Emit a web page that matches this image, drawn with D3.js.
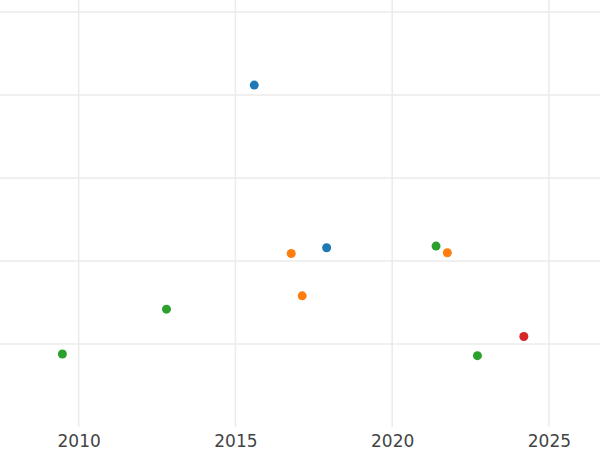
<!DOCTYPE html>
<html>
<head>
<meta charset="utf-8">
<script src="https://cdn.jsdelivr.net/npm/d3@7"></script>
<style>
  body { margin: 0; background: #fff; }
  svg { display: block; }
</style>
</head>
<body>
<div id="chart"></div>
<script>
const W = 600;
const H = 450;
const plotBottom = 427;

// data
const series = ["A", "B", "C", "D"];
const colors = ["#1f77b4", "#ff7f0e", "#2ca02c", "#d62728"];
const years = [2015.6, 2017.91, 2016.78, 2017.13, 2021.76, 2009.48, 2012.8, 2021.4, 2022.72, 2024.2];
const values = [41.2, 21.6, 20.9, 15.8, 21.0, 8.8, 14.2, 21.8, 8.6, 10.9];
const groups = ["A", "A", "B", "B", "B", "C", "C", "C", "C", "D"];
const xTicks = [2010, 2015, 2020, 2025];
const yTicks = [10, 20, 30, 40, 50];

const svg = d3.select('#chart').append('svg')
  .attr('width', W)
  .attr('height', H);

const x = d3.scaleLinear().domain([2007.49, 2026.63]).range([0, W]);
const y = d3.scaleLinear().domain([0, 51.45]).range([plotBottom, 0]);
const color = d3.scaleOrdinal().domain(series).range(colors);

// gridlines
svg.append('g')
  .selectAll('line')
  .data(yTicks)
  .join('line')
    .attr('x1', 0)
    .attr('x2', W)
    .attr('y1', d => y(d))
    .attr('y2', d => y(d))
    .attr('stroke', '#ebebeb')
    .attr('stroke-width', 1.5);

svg.append('g')
  .selectAll('line')
  .data(xTicks)
  .join('line')
    .attr('x1', d => x(d))
    .attr('x2', d => x(d))
    .attr('y1', 0)
    .attr('y2', plotBottom)
    .attr('stroke', '#ebebeb')
    .attr('stroke-width', 1.5);

// x axis labels
const xAxis = d3.axisBottom(x)
  .tickValues(xTicks)
  .tickFormat(d3.format('d'))
  .tickSize(0)
  .tickPadding(8);

svg.append('g')
  .attr('transform', `translate(0,${plotBottom})`)
  .call(xAxis)
  .call(g => g.select('.domain').remove())
  .call(g => g.selectAll('text')
    .attr('font-family', 'DejaVu Sans, sans-serif')
    .attr('font-size', 17)
    .attr('fill', '#444'));

// points
const points = years.map((yr, i) => ({ year: yr, value: values[i], group: groups[i] }));

svg.append('g')
  .selectAll('circle')
  .data(points)
  .join('circle')
    .attr('cx', d => x(d.year))
    .attr('cy', d => y(d.value))
    .attr('r', 4.5)
    .attr('fill', d => color(d.group));
</script>
</body>
</html>
